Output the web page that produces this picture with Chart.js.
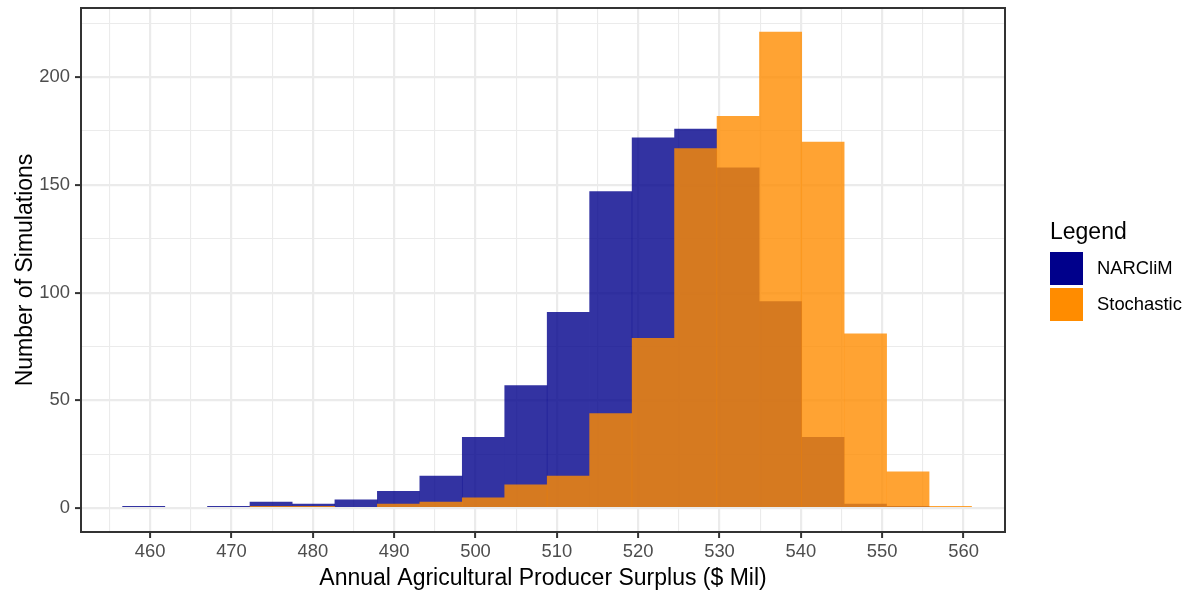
<!DOCTYPE html>
<html lang="en">
<head>
<meta charset="UTF-8">
<title>Annual Agricultural Producer Surplus</title>
<script src="https://cdn.jsdelivr.net/npm/chart.js@4"></script>
<style>
  html, body { margin: 0; padding: 0; background: #fff; }
  canvas { display: block; }
</style>
</head>
<body>
<canvas id="histo" width="1187" height="595"></canvas>
<script>
// bin centres ($ Mil), 20 bins about 5.22 wide
const binCenters = [459.21, 464.43, 469.65, 474.87, 480.09, 485.31, 490.53, 495.75, 500.97, 506.19,
                    511.41, 516.63, 521.85, 527.07, 532.29, 537.51, 542.73, 547.95, 553.17, 558.39];
const binWidth = 5.22;
const narclimCounts    = [1, 0, 1, 3, 2, 4, 8, 15, 33, 57, 91, 147, 172, 176, 158, 96, 33, 2, 1, 0];
const stochasticCounts = [0, 0, 0, 1, 1, 0, 2, 3, 5, 11, 15, 44, 79, 167, 182, 221, 170, 81, 17, 1];
const seriesNames = ['NARCliM', 'Stochastic'];

const xTicks      = [460, 470, 480, 490, 500, 510, 520, 530, 540, 550, 560];
const xMinorTicks = [455, 465, 475, 485, 495, 505, 515, 525, 535, 545, 555, 565];
const xTickStep = 5;
const yTicks      = [0, 50, 100, 150, 200];
const yMinorTicks = [25, 75, 125, 175, 225];

const FONT = '"Liberation Sans", Arial, sans-serif';

function tickList(major, minor) {
  return major.concat(minor).sort((a, b) => a - b).map(v => ({ value: v }));
}

// empty bins draw nothing
function points(counts) {
  return binCenters.map((x, i) => ({ x: x, y: counts[i] === 0 ? null : counts[i] }));
}

// major / minor grid like theme_bw
function gridFor(major) {
  return {
    offset: false,
    color: '#EBEBEB',
    lineWidth: c => major.includes(c.tick.value) ? 2.2 : 1.1,
    tickColor: c => major.includes(c.tick.value) ? '#333333' : 'rgba(0,0,0,0)',
    tickWidth: 2,
    tickLength: 6
  };
}

const panelBorder = {
  id: 'panelBorder',
  afterDraw(chart) {
    const a = chart.chartArea;
    const ctx = chart.ctx;
    ctx.save();
    ctx.strokeStyle = '#333333';
    ctx.lineWidth = 2;
    ctx.strokeRect(a.left, a.top, a.right - a.left, a.bottom - a.top);
    ctx.restore();
  }
};

const legendBox = {
  id: 'legendBox',
  afterDraw(chart) {
    const ctx = chart.ctx;
    ctx.save();
    ctx.fillStyle = '#000';
    ctx.font = '23px ' + FONT;
    ctx.textBaseline = 'alphabetic';
    ctx.fillText('Legend', 1050, 239);
    chart.data.datasets.forEach((ds, i) => {
      const top = 252 + i * 36;
      ctx.fillStyle = ds.keyColor;
      ctx.fillRect(1050, top, 33, 33);
      ctx.fillStyle = '#000';
      ctx.font = '18.4px ' + FONT;
      ctx.textBaseline = 'middle';
      ctx.fillText(ds.label, 1097, top + 17);
    });
    ctx.restore();
  }
};

const ctx = document.getElementById('histo').getContext('2d');
new Chart(ctx, {
  type: 'bar',
  data: {
    datasets: [{
      label: seriesNames[0],
      data: points(narclimCounts),
      backgroundColor: 'rgba(0,0,139,0.8)',
      keyColor: '#00008B',
      order: 2
    }, {
      label: seriesNames[1],
      data: points(stochasticCounts),
      backgroundColor: 'rgba(255,140,0,0.8)',
      keyColor: '#FF8C00',
      order: 1
    }]
  },
  options: {
    responsive: false,
    animation: false,
    layout: { padding: { left: 0, right: 182, top: 8, bottom: 0 } },
    datasets: {
      // chart.js sizes bars from the smallest gap, which is the 5-unit tick step here,
      // so scale up to the real bin width (plus a hair so neighbours meet without a seam)
      bar: { grouped: false, barPercentage: (binWidth / xTickStep) * 1.009, categoryPercentage: 1, borderWidth: 0 }
    },
    plugins: {
      legend: { display: false },
      tooltip: { enabled: false }
    },
    scales: {
      x: {
        type: 'linear',
        offset: false,
        min: 451.5,
        max: 565.1,
        afterBuildTicks: axis => { axis.ticks = tickList(xTicks, xMinorTicks); },
        afterFit: axis => { axis.height = 63; axis.paddingLeft = 0; axis.paddingRight = 0; },
        grid: gridFor(xTicks),
        border: { display: false },
        ticks: {
          autoSkip: false,
          maxRotation: 0,
          padding: 3,
          color: '#4D4D4D',
          font: { family: FONT, size: 18.4 },
          callback: v => xTicks.includes(v) ? String(v) : ''
        },
        title: {
          display: true,
          text: 'Annual Agricultural Producer Surplus ($ Mil)',
          color: '#000',
          font: { family: FONT, size: 23 },
          padding: { top: 0, bottom: 3 }
        }
      },
      y: {
        min: -11.05,
        max: 232.05,
        afterBuildTicks: axis => { axis.ticks = tickList(yTicks, yMinorTicks); },
        afterFit: axis => { axis.width = 81; axis.paddingTop = 0; axis.paddingBottom = 0; },
        grid: gridFor(yTicks),
        border: { display: false },
        ticks: {
          autoSkip: false,
          padding: 5,
          color: '#4D4D4D',
          font: { family: FONT, size: 18.4 },
          callback: v => yTicks.includes(v) ? String(v) : ''
        },
        title: {
          display: true,
          text: 'Number of Simulations',
          color: '#000',
          font: { family: FONT, size: 23 },
          padding: { top: 12, bottom: 0 }
        }
      }
    }
  },
  plugins: [panelBorder, legendBox]
});
</script>
</body>
</html>
